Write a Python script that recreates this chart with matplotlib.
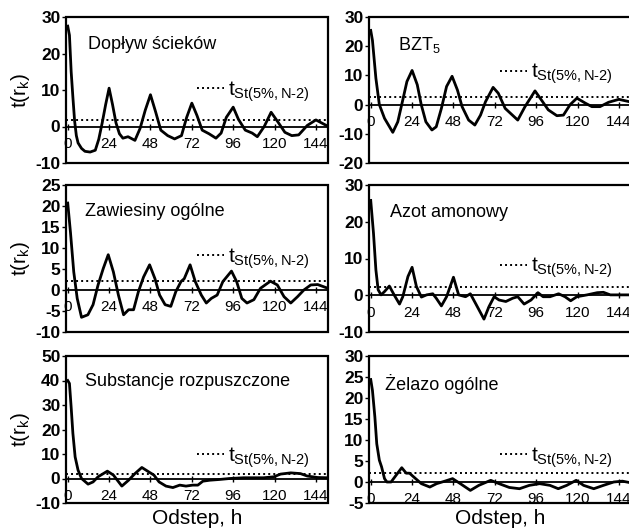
import matplotlib
matplotlib.use("Agg")
import matplotlib.pyplot as plt
from matplotlib.lines import Line2D
from matplotlib.patches import Rectangle

plt.rcParams['font.family'] = ['Liberation Sans', 'DejaVu Sans']
plt.rcParams['mathtext.fontset'] = 'custom'
plt.rcParams['mathtext.rm'] = 'Liberation Sans'
plt.rcParams['mathtext.it'] = 'Liberation Sans:italic'
plt.rcParams['mathtext.bf'] = 'Liberation Sans:bold'

# ---------------- data ----------------
titles = ["Dopływ ścieków", "BZT$_5$", "Zawiesiny ogólne", "Azot amonowy",
          "Substancje rozpuszczone", "Żelazo ogólne"]

lag_doplyw = [0, 1, 2, 3, 4, 5, 6, 8, 10, 13, 16, 18, 20, 22, 24, 26, 28, 30, 32, 35, 39, 42,
              45, 48, 51, 54, 58, 62, 66, 69, 72, 75, 78, 82, 86, 89, 92, 96, 99, 103, 107,
              110, 114, 118, 122, 126, 130, 134, 139, 144, 150]
val_doplyw = [27.5, 25, 15, 8, 1.5, -2.5, -4.5, -6, -6.8, -7, -6.5, -3.5, 1, 6, 10.5, 6, 1, -2,
              -3.2, -2.8, -3.8, -0.5, 4.5, 8.7, 4, -1, -2.5, -3.4, -2.5, 2.5, 6.4, 3, -1, -2,
              -3.2, -1.8, 2.5, 5.3, 2, -1, -1.8, -2.8, 0, 3.9, 1.2, -1.6, -2.5, -2.3, 0.3, 1.8, 0.3]

lag_bzt = [0, 1, 3, 5, 8, 12.8, 15.7, 18.6, 21, 24, 27, 29.3, 32, 35.5, 38, 41, 44, 47.2, 50.3,
           53, 56.8, 60.4, 63.7, 66.6, 71, 74, 78, 85.3, 89.5, 95.3, 99, 103, 108, 111.8,
           115.7, 119.6, 124.5, 128.3, 133, 138, 144, 150]
val_bzt = [25.4, 22, 9, 0, -4.7, -9.5, -5.9, 1.6, 7.9, 11.7, 6.8, 0, -5.9, -8.7, -7.6, -1.3,
           6.2, 9.7, 5, -0.7, -5.3, -7, -3.6, 1, 5.9, 3.9, -1.3, -5.3, -0.7, 4.7, 1.6, -1.8,
           -3.8, -3.6, 0, 2.2, 0.5, -0.7, -0.7, 0.8, 1.8, 1]

lag_zaw = [0, 1.6, 3.5, 5.5, 8, 11.7, 14.7, 17.6, 20.6, 23.5, 26.5, 29.4, 32.4, 35.3, 38.2, 41,
           44, 47.5, 50.6, 53.3, 56.5, 59.8, 62.7, 65.7, 67.6, 71, 74, 77.5, 80.4, 83.3, 86.7,
           90, 95, 98, 101, 104, 108, 111.8, 117.6, 121.6, 125.5, 129.4, 133.3, 137, 141, 145,
           151]
val_zaw = [20.7, 13.7, 4.3, -2, -6.5, -5.9, -3.5, 1.2, 5.1, 8.4, 4.3, -1.2, -5.9, -4.7, -4.7,
           -0.4, 3.1, 6, 2.7, -1.2, -3.5, -3.9, -0.4, 2, 2.7, 6, 2, -1.2, -3.1, -2, -1.2, 2,
           4.5, 2, -2, -3.1, -2.3, 0.4, 2.1, 1.2, -1.6, -3.1, -1.6, 0, 1.2, 1.3, 0.4]

lag_azot = [0, 1.6, 3, 4.3, 6, 8, 10.8, 13.7, 16.7, 18.6, 21.6, 24, 26.5, 29.4, 32.4, 36, 38,
            41, 44, 48, 51, 55, 57.8, 60.8, 65.7, 68.6, 71.6, 74.5, 78.4, 82.4, 85.3, 89, 93,
            97, 100, 104, 109, 112.7, 116, 119.6, 125.5, 131.4, 135, 139, 151]
val_azot = [25.8, 16.9, 6.9, 1.5, 0.1, 1, 2.5, 0, -2.4, -0.4, 5.1, 7.6, 2.4, -0.5, 0.1, 0.4,
            -0.8, -2.9, -0.4, 4.9, 0.1, -0.4, 0.4, -2.2, -6.5, -3.1, -0.4, -1.3, -1.7, -0.8,
            -0.4, -2.4, -1.3, 0.7, -0.4, -0.4, 0.4, -0.4, -1.5, -0.4, 0.1, 0.7, 0.8, 0.1, 0.1]

lag_subst = [0, 1, 2, 3, 4.3, 6, 8, 11.8, 14.7, 17.6, 23, 26.5, 31.4, 35.3, 39, 43, 47, 50, 53,
             57, 61, 65, 68.6, 72.5, 75.5, 78.4, 82.4, 88, 94, 102, 113.7, 119.6, 123.5,
             129.4, 135, 139, 145, 151]
val_subst = [40, 38.8, 29, 18.4, 8.8, 3.4, 0, -2.3, -1.4, 0.7, 3, 1.4, -3.1, -0.7, 2, 4.5, 2.7,
             1.4, -1.4, -3.1, -3.7, -2.7, -3.1, -2.7, -2.7, -1.1, -0.7, -0.4, 0, 0.3, 0.3, 0.7,
             1.8, 2.3, 2, 1, 0.4, 0.3]

lag_zelazo = [0, 1, 2.4, 3.5, 5, 6.3, 8, 9.4, 11.8, 14.7, 18, 20.6, 22.5, 25.5, 29.4, 34.3,
              38.2, 43, 47.5, 52, 57.8, 62.7, 69.6, 74.5, 80.4, 86.3, 92, 98, 104, 108.8,
              113.7, 119.2, 123.5, 129.4, 135, 141, 146, 151]
val_zelazo = [24.4, 21.8, 15.5, 9.1, 5.2, 3.6, 0.8, 0, 0, 1.6, 3.4, 2.1, 2.1, 1, -0.4, -1.2,
              -0.4, 0.2, 0.8, -0.4, -2, -0.8, 0.4, -0.4, -1.3, -1.6, -0.8, -0.4, -0.8, -1.6,
              -0.8, 0.4, -0.8, -1.6, -0.8, 0, 0.2, -0.2]

t_crit = [1.9, 2.6, 2.1, 2.2, 2.0, 2.1]

y_ticks = [[-10, 0, 10, 20, 30],
           [-20, -10, 0, 10, 20, 30],
           [-10, -5, 0, 5, 10, 15, 20, 25],
           [-10, 0, 10, 20, 30],
           [-10, 0, 10, 20, 30, 40, 50],
           [-5, 0, 5, 10, 15, 20, 25, 30]]
x_ticks = [0, 24, 48, 72, 96, 120, 144]

series = [(lag_doplyw, val_doplyw), (lag_bzt, val_bzt), (lag_zaw, val_zaw),
          (lag_azot, val_azot), (lag_subst, val_subst), (lag_zelazo, val_zelazo)]

# ---------------- layout ----------------
fig = plt.figure(figsize=(6.29, 5.28), dpi=100)
W, H = 629, 528
lefts = [66, 369]
tops = [17, 185, 356]
bottoms = [163, 332, 503]
aw = 262

title_pos = [(0.085, 0.81), (0.11, 0.81), (0.073, 0.82), (0.08, 0.81), (0.073, 0.825), (0.06, 0.81)]
leg_y = [0.49, 0.61, 0.50, 0.435, 0.31, 0.31]
leg_label = r'$\mathregular{t}_{\mathregular{St(5\%,N\text{-}2)}}$'

for i, (lags, vals) in enumerate(series):
    r, c = divmod(i, 2)
    l = lefts[c] / W
    b = 1 - bottoms[r] / H
    h = (bottoms[r] - tops[r]) / H
    ax = fig.add_axes([l, b, aw / W, h])

    ax.plot(lags, vals, color='black', lw=2.0, solid_joinstyle='round', zorder=3)
    ax.axhline(t_crit[i], color='black', lw=1.4, ls=(0, (1, 1.6)), zorder=2)

    yt = y_ticks[i]
    ax.set_ylim(yt[0], yt[-1])
    ax.set_xlim(-1, 151)
    ax.set_yticks(yt)
    ax.set_yticklabels([str(v) for v in yt], fontsize=12.5, fontweight='bold')
    ax.tick_params(axis='y', direction='out', length=3, width=1, pad=1)

    # zero line as the x axis spine
    for s in ['top', 'right', 'left']:
        ax.spines[s].set_visible(False)
    ax.spines['bottom'].set_position(('data', 0))
    ax.spines['bottom'].set_linewidth(1.3)
    ax.set_xticks(x_ticks)
    ax.set_xticklabels([str(v) for v in x_ticks], fontsize=11)
    ax.tick_params(axis='x', direction='inout', length=5, width=1, pad=5)
    ax.add_patch(Rectangle((0, 0), 1, 1, transform=ax.transAxes, fill=False,
                           lw=1.6, edgecolor='black', clip_on=False, zorder=5))

    ax.text(title_pos[i][0], title_pos[i][1], titles[i], transform=ax.transAxes,
            fontsize=13, ha='left', va='center')

    handle = Line2D([], [], color='black', lw=1.4, ls=(0, (1, 1.6)))
    ax.legend([handle], [leg_label],
              loc='center left', bbox_to_anchor=(0.5, leg_y[i]), frameon=False,
              fontsize=15, handlelength=1.3, handletextpad=0.2, borderpad=0,
              borderaxespad=0)

    if c == 0:
        ax.set_ylabel(r't(r$_\mathregular{k}$)', fontsize=15)
        ax.yaxis.set_label_coords(-0.13, 0.5)
    if r == 2:
        ax.set_xlabel('Odstep, h', fontsize=15)
        ax.xaxis.set_label_coords(0.5, -0.04)

fig.savefig('out.png', dpi=100)
